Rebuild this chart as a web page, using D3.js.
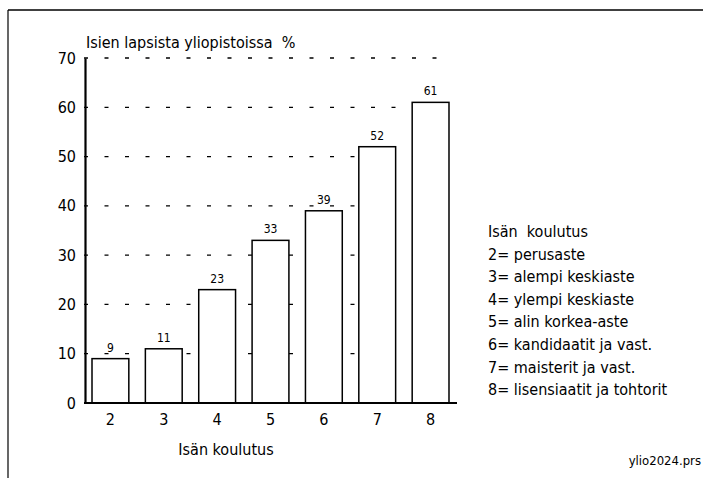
<!DOCTYPE html>
<html><head><meta charset="utf-8">
<script src="https://cdn.jsdelivr.net/npm/d3@7"></script>
<style>
body{margin:0;background:#fff;}
svg text{font-family:"Liberation Sans Narrow","Arial Narrow","DejaVu Sans Condensed",sans-serif;fill:#000;white-space:pre;}
</style></head><body>
<svg id="c" width="703" height="478"></svg>
<script>
const categories = ["2","3","4","5","6","7","8"];
const values = [9, 11, 23, 33, 39, 52, 61];
const yTicks = [0,10,20,30,40,50,60,70];
const legendTitle = "Isän  koulutus";
const legendItems = ["2= perusaste","3= alempi keskiaste","4= ylempi keskiaste","5= alin korkea-aste","6= kandidaatit ja vast.","7= maisterit ja vast.","8= lisensiaatit ja tohtorit"];
const yTitle = "Isien lapsista yliopistoissa  %";
const xTitle = "Isän koulutus";
const fileLabel = "ylio2024.prs";

const svg = d3.select("#c");
const x = d3.scaleBand().domain(categories).range([84, 457]).paddingInner(0.31).paddingOuter(0.15);
const y = d3.scaleLinear().domain([0,70]).range([403, 58]);

// frame
svg.append("line").attr("x1",8).attr("x2",703).attr("y1",10).attr("y2",10).attr("stroke","#000").attr("stroke-width",1.5);
svg.append("line").attr("x1",8).attr("x2",8).attr("y1",10).attr("y2",478).attr("stroke","#000").attr("stroke-width",1.2);

// gridlines
svg.append("g").selectAll("line").data(yTicks.filter(d=>d>0)).join("line")
  .attr("x1",84).attr("x2",442).attr("y1",d=>y(d)).attr("y2",d=>y(d))
  .attr("stroke","#000").attr("stroke-width",1.3).attr("stroke-dasharray","4,16.5");

// bars
svg.append("g").selectAll("rect").data(values).join("rect")
  .attr("x",(d,i)=>x(categories[i])).attr("width",x.bandwidth())
  .attr("y",d=>y(d)).attr("height",d=>y(0)-y(d))
  .attr("fill","#fff").attr("stroke","#000").attr("stroke-width",1.5);

// value labels
svg.append("g").selectAll("text").data(values).join("text")
  .attr("x",(d,i)=>x(categories[i])+x.bandwidth()/2).attr("y",d=>y(d)-7)
  .attr("text-anchor","middle").attr("font-size",12).text(d=>d);

// axes
const yAxis = d3.axisLeft(y).tickValues(yTicks).tickSize(0).tickPadding(9);
const gy = svg.append("g").attr("transform","translate(85,0)").call(yAxis);
gy.select(".domain").attr("stroke-width",2.2);
gy.selectAll("text").attr("font-size",16);

const xAxis = d3.axisBottom(x).tickSize(0).tickPadding(11);
const gx = svg.append("g").attr("transform","translate(0,403)").call(xAxis);
gx.select(".domain").attr("stroke-width",2.2).attr("d","M84,0H457");
gx.selectAll("text").attr("font-size",16);
svg.selectAll("g[font-family]").attr("font-family",null);

// titles
svg.append("text").attr("x",86).attr("y",48).attr("font-size",16).text(yTitle);
svg.append("text").attr("x",226).attr("y",455).attr("text-anchor","middle").attr("font-size",16).text(xTitle);

// legend
const lg = svg.append("g");
lg.append("text").attr("x",488).attr("y",237).attr("font-size",16).text(legendTitle);
lg.selectAll("text.item").data(legendItems).join("text").attr("class","item")
  .attr("x",488).attr("y",(d,i)=>237+(i+1)*22.6).attr("font-size",16).text(d=>d);

svg.append("text").attr("x",701).attr("y",465).attr("text-anchor","end").attr("font-size",13).text(fileLabel);
</script></body></html>
